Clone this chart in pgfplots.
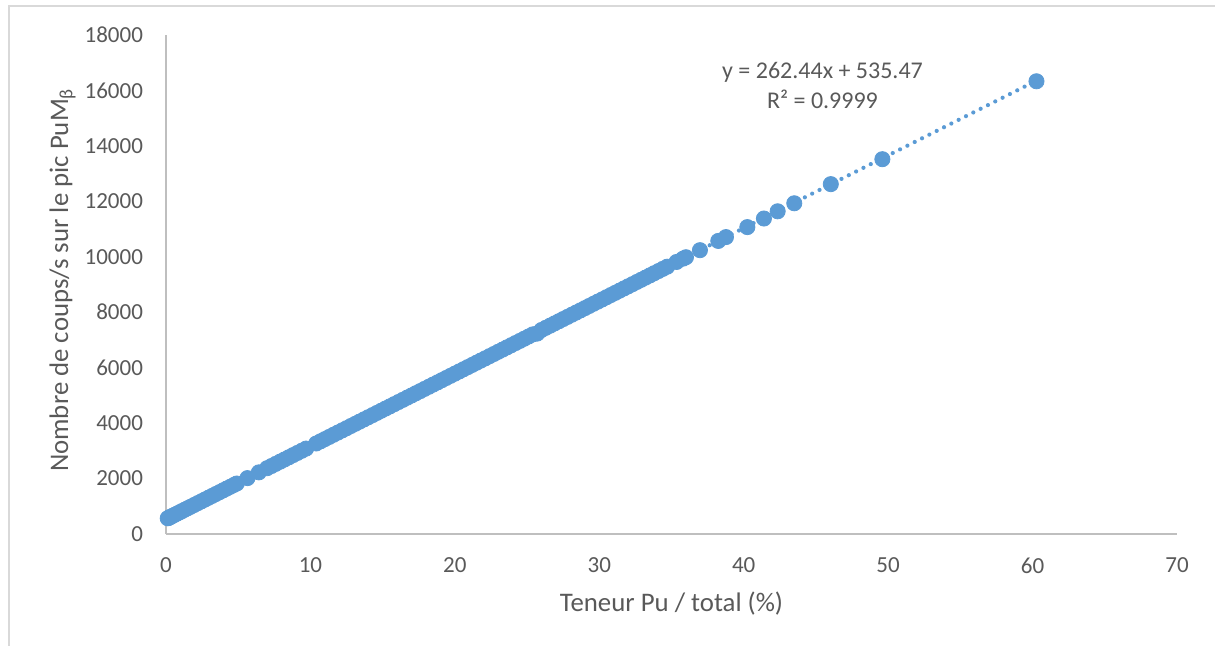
\documentclass[border=0pt]{standalone}
\usepackage{fontspec}
\setmainfont{Carlito}
\usepackage{pgfplots}
\pgfplotsset{compat=1.18}
\definecolor{xlblue}{HTML}{5B9BD5}
\definecolor{xltext}{HTML}{595959}
\definecolor{xlaxis}{HTML}{BFBFBF}
\definecolor{xlborder}{HTML}{D9D9D9}
\begin{document}
\begin{tikzpicture}
\draw[xlborder, line width=0.8pt] (4.5pt,0pt) -- (4.5pt,320pt) -- (607.5pt,320pt);
\begin{axis}[
  at={(83pt,56pt)}, anchor=south west,
  scale only axis, width=505.5pt, height=249.5pt,
  xmin=0, xmax=70, ymin=0, ymax=18000,
  xtick={0,10,...,70}, ytick={0,2000,...,18000},
  axis x line*=bottom, axis y line*=left,
  axis line style={draw=xlaxis, line width=0.9pt, -},
  major tick length=0pt,
  tick style={draw=none},
  scaled y ticks=false,
  /pgf/number format/1000 sep={},
  /pgf/number format/assume math mode=true,
  ticklabel style={font=\fontsize{11.5}{13.5}\selectfont, text=xltext},
  yticklabel style={xshift=-8pt},
  xticklabel style={yshift=-8.3pt},
  clip=false,
]
\addplot[xlblue, line width=2.1pt, line cap=round, dash pattern=on 0pt off 4.1pt] coordinates {(0.12,567) (60.27,16353)};
\addplot[only marks, mark=*, mark size=3.8pt, mark options={fill=xlblue, draw=xlblue, line width=0.4pt}] coordinates {
(0.12,567) (0.18,580) (0.25,601) (0.33,622) (0.45,654) (0.6,693) (0.78,740) (0.95,785)
(1.1,824) (1.3,877) (1.5,929) (1.7,982) (1.95,1047) (2.2,1113) (2.45,1178) (2.7,1244)
(2.95,1310) (3.2,1375) (3.45,1441) (3.7,1506) (3.95,1572) (4.2,1638) (4.45,1703) (4.7,1769)
(4.9,1821) (5.64,2016) (6.43,2223) (7.0,2373) (7.3,2451) (7.6,2530) (7.9,2609) (8.2,2687)
(8.5,2766) (8.8,2845) (9.1,2924) (9.4,3002) (9.7,3081) (10.4,3265) (10.7,3344) (11.0,3422)
(11.3,3501) (11.6,3580) (11.9,3659) (12.2,3737) (12.5,3816) (12.8,3895) (13.1,3973) (13.4,4052)
(13.7,4131) (14.0,4210) (14.3,4288) (14.6,4367) (14.9,4446) (15.2,4525) (15.5,4603) (15.8,4682)
(16.1,4761) (16.4,4839) (16.7,4918) (17.0,4997) (17.3,5076) (17.6,5154) (17.9,5233) (18.2,5312)
(18.5,5391) (18.8,5469) (19.1,5548) (19.4,5627) (19.7,5706) (20.0,5784) (20.3,5863) (20.6,5942)
(20.9,6020) (21.2,6099) (21.5,6178) (21.8,6257) (22.1,6335) (22.4,6414) (22.7,6493) (23.0,6572)
(23.3,6650) (23.6,6729) (23.9,6808) (24.2,6887) (24.5,6965) (24.8,7044) (25.1,7123) (25.4,7201)
(25.7,7230) (26.0,7359) (26.3,7438) (26.6,7516) (26.9,7595) (27.2,7674) (27.5,7753) (27.8,7831)
(28.1,7910) (28.4,7989) (28.7,8067) (29.0,8146) (29.3,8225) (29.6,8304) (29.9,8382) (30.2,8461)
(30.5,8540) (30.8,8619) (31.1,8697) (31.4,8776) (31.7,8855) (32.0,8934) (32.3,9012) (32.6,9091)
(32.9,9170) (33.2,9248) (33.5,9327) (33.8,9406) (34.1,9485) (34.4,9563) (34.7,9642) (35.35,9813)
(35.8,9931) (36.0,9983) (36.97,10238) (38.24,10571) (38.77,10710) (40.25,11070) (41.40,11380)
(42.35,11640) (43.5,11930) (46.03,12620) (49.6,13520) (60.27,16330)
};
\end{axis}
\node[rotate=90, anchor=base, text=xltext, font=\fontsize{13.4}{15}\selectfont] at (34pt,183pt) {Nombre de coups/s sur le pic PuM\textsubscript{β}};
\node[anchor=base, text=xltext, font=\fontsize{13.4}{15}\selectfont] at (335.75pt,17.2pt) {Teneur Pu / total (\%)};
\node[anchor=base, text=xltext, font=\fontsize{12}{14}\selectfont] at (411.25pt,283.85pt) {y = 262.44x + 535.47};
\node[anchor=base, text=xltext, font=\fontsize{12}{14}\selectfont] at (411.25pt,268.85pt) {R² = 0.9999};
\pgfresetboundingbox
\path (0pt,0pt) rectangle (607.5pt,323pt);
\end{tikzpicture}
\end{document}
